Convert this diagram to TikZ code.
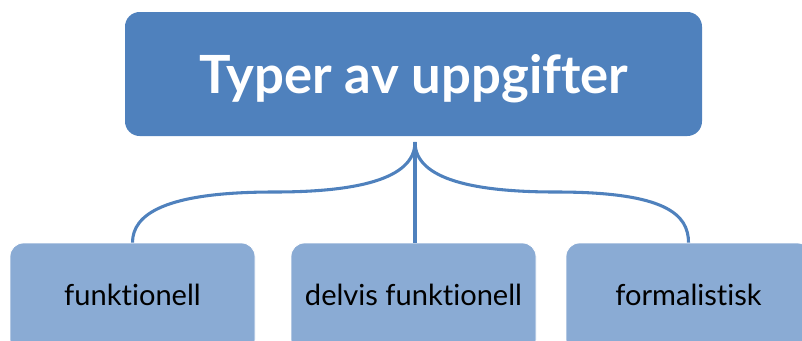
\documentclass[tikz,border=0pt]{standalone}
\usepackage{fontspec}
\setmainfont{Lato}[Ligatures=NoCommon]
\definecolor{topblue}{HTML}{4F81BD}
\definecolor{subblue}{HTML}{8AABD4}
\begin{document}
\begin{tikzpicture}[x=0.75pt,y=-0.75pt,
  topbox/.style={fill=topblue, draw=none, rounded corners=11pt, inner sep=0pt,
    minimum width=432.75pt, minimum height=93pt},
  subbox/.style={fill=subblue, draw=white, line width=0.6pt, rounded corners=10pt, inner sep=0pt,
    minimum width=183.75pt, minimum height=82.5pt},
  titletext/.style={text=white, font=\fontsize{39.5}{44}\selectfont\bfseries, inner sep=0pt, anchor=base},
  subtext/.style={text=black, font=\fontsize{21.8}{24}\selectfont, inner sep=0pt, anchor=base},
  conn/.style={draw=topblue, line width=2.3pt}
]
\useasboundingbox (0,0) rectangle (802,340);
\clip (0,0) rectangle (802,340);

% root box and title
\node[topbox] (root) at (413.5,74) {};
\node[titletext] (roottxt) at (414,93) {Typer av uppgifter};

% child boxes
\node[subbox] (b1) at (132.5,298) {};
\node[subbox] (b2) at (413.5,298) {};
\node[subbox] (b3) at (688.5,298) {};
\node[subtext] (t1) at (132.5,305) {funktionell};
\node[subtext] (t2) at (413.5,305) {delvis funktionell};
\node[subtext] (t3) at (688.5,305) {formalistisk};

% branching point below the root and the curve midpoints
\coordinate (hub) at (415,142);
\coordinate (lmid) at (274,192);
\coordinate (rmid) at (556,192);

% connectors
\draw[conn] (hub) .. controls +(0,38) and +(80,0) .. (lmid)
  .. controls +(-110,0) and +(0,-28) .. (b1.north);
\draw[conn] (hub) -- (hub |- b2.north);
\draw[conn] (hub) .. controls +(0,38) and +(-80,0) .. (rmid)
  .. controls +(110,0) and +(0,-28) .. (b3.north);
\end{tikzpicture}
\end{document}
